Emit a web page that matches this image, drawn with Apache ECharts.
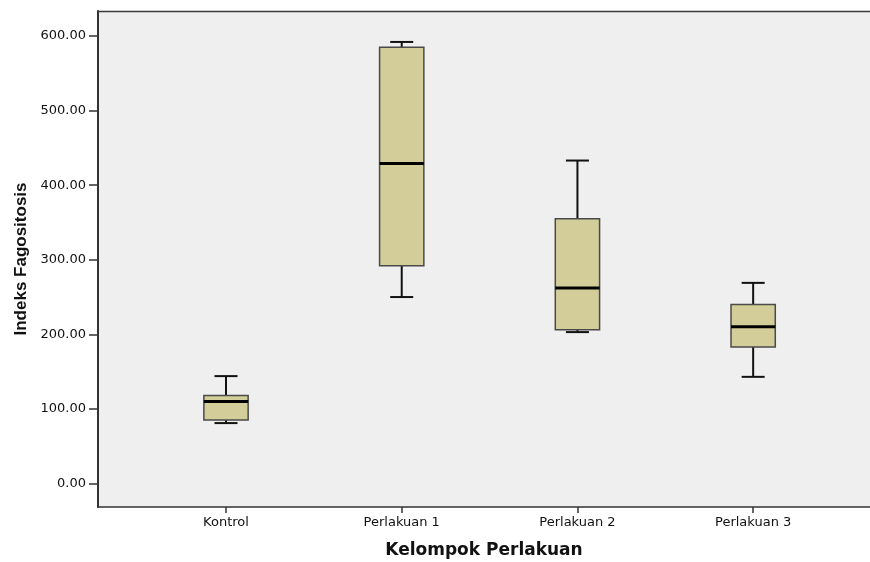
<!DOCTYPE html>
<html>
<head>
<meta charset="utf-8">
<script src="https://cdn.jsdelivr.net/npm/echarts@6/dist/echarts.min.js"></script>
<style>
html,body{margin:0;padding:0;background:#fff;}
#chart{width:870px;height:562px;}
</style>
</head>
<body>
<div id="chart"></div>
<script>
// Data
const categories = ['Kontrol', 'Perlakuan 1', 'Perlakuan 2', 'Perlakuan 3'];
const whiskerLow  = [81, 250, 203, 143];
const quartile1   = [85, 292, 206, 183];
const medians     = [110, 429, 262, 210];
const quartile3   = [118, 585, 355, 240];
const whiskerHigh = [144, 592, 433, 269];
const yTicks = [0, 100, 200, 300, 400, 500, 600];
const xTicks = [0, 1, 2, 3];

const boxData = categories.map((c, i) => [i, whiskerLow[i], quartile1[i], medians[i], quartile3[i], whiskerHigh[i]]);

const X_MIN = -0.7285, X_MAX = 3.665;

const chart = echarts.init(document.getElementById('chart'));
chart.setOption({
  animation: false,
  backgroundColor: '#ffffff',
  grid: {
    left: 98, top: 11, right: 0, bottom: 55,
    outerBoundsMode: 'none',
    containLabel: false,
    show: true, backgroundColor: '#efefef', borderWidth: 0
  },
  xAxis: [{
    type: 'value',
    min: X_MIN, max: X_MAX,
    splitLine: { show: false },
    axisLine: { show: true, onZero: false, lineStyle: { color: '#333', width: 1.5 } },
    axisTick: { show: true, customValues: xTicks, length: 6, lineStyle: { color: '#333', width: 1.5 } },
    axisLabel: {
      customValues: xTicks, margin: 9,
      fontFamily: 'DejaVu Sans', fontSize: 13, color: '#111',
      formatter: v => categories[Math.round(v)]
    },
    name: 'Kelompok Perlakuan',
    nameLocation: 'middle', nameGap: 35,
    nameTextStyle: { fontFamily: 'DejaVu Sans', fontWeight: 'bold', fontSize: 17, color: '#111' }
  }, {
    type: 'value', position: 'top',
    min: X_MIN, max: X_MAX,
    splitLine: { show: false },
    axisLine: { show: true, onZero: false, lineStyle: { color: '#3a3a3a', width: 1.3 } },
    axisTick: { show: false },
    axisLabel: { show: false }
  }],
  yAxis: {
    type: 'value',
    min: -31.5, max: 633.5,
    splitLine: { show: false },
    axisLine: { show: true, onZero: false, lineStyle: { color: '#333', width: 2 } },
    axisTick: { show: true, customValues: yTicks, length: 9, lineStyle: { color: '#333', width: 1.5 } },
    axisLabel: {
      customValues: yTicks, margin: 12,
      fontFamily: 'DejaVu Sans', fontSize: 13, color: '#111',
      formatter: v => v.toFixed(2)
    },
    name: 'Indeks Fagositosis',
    nameLocation: 'middle', nameGap: 68,
    nameTextStyle: { fontFamily: "'Liberation Sans', Arial, sans-serif", fontWeight: 'bold', fontSize: 17, color: '#111' }
  },
  series: [{
    type: 'custom',
    xAxisIndex: 0,
    data: boxData,
    encode: { x: 0, y: [1, 2, 3, 4, 5] },
    renderItem: function (params, api) {
      const x = api.value(0);
      const lo = api.coord([x, api.value(1)]);
      const q1 = api.coord([x, api.value(2)]);
      const md = api.coord([x, api.value(3)]);
      const q3 = api.coord([x, api.value(4)]);
      const hi = api.coord([x, api.value(5)]);
      const unit = api.size([1, 0])[0];
      const bw = unit * 0.252;
      const cw = bw * 0.52;
      const cx = lo[0];
      const wStyle = { stroke: '#111', lineWidth: 2 };
      return {
        type: 'group',
        children: [
          { type: 'line', shape: { x1: cx, y1: hi[1], x2: cx, y2: q3[1] }, style: wStyle },
          { type: 'line', shape: { x1: cx, y1: lo[1], x2: cx, y2: q1[1] }, style: wStyle },
          { type: 'line', shape: { x1: cx - cw / 2, y1: hi[1], x2: cx + cw / 2, y2: hi[1] }, style: wStyle },
          { type: 'line', shape: { x1: cx - cw / 2, y1: lo[1], x2: cx + cw / 2, y2: lo[1] }, style: wStyle },
          { type: 'rect', shape: { x: cx - bw / 2, y: q3[1], width: bw, height: q1[1] - q3[1] },
            style: { fill: '#d3ce99', stroke: '#4a4a4a', lineWidth: 1.5 } },
          { type: 'line', shape: { x1: cx - bw / 2, y1: md[1], x2: cx + bw / 2, y2: md[1] },
            style: { stroke: '#000', lineWidth: 3 } }
        ]
      };
    }
  }]
});
</script>
</body>
</html>
